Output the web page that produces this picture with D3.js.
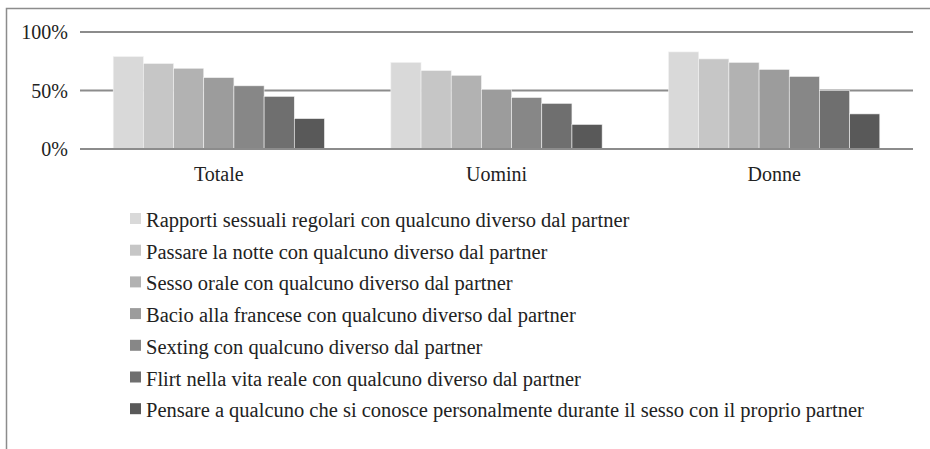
<!DOCTYPE html>
<html>
<head>
<meta charset="utf-8">
<script src="https://cdn.jsdelivr.net/npm/d3@7"></script>
<style>
  body { margin: 0; background: #fff; }
</style>
</head>
<body>
<div id="chart"></div>
<script>
// categories and series
const groups = ["Totale", "Uomini", "Donne"];
const seriesNames = [
  "Rapporti sessuali regolari con qualcuno diverso dal partner",
  "Passare la notte con qualcuno diverso dal partner",
  "Sesso orale con qualcuno diverso dal partner",
  "Bacio alla francese con qualcuno diverso dal partner",
  "Sexting con qualcuno diverso dal partner",
  "Flirt nella vita reale con qualcuno diverso dal partner",
  "Pensare a qualcuno che si conosce personalmente durante il sesso con il proprio partner"
];
// values in %, one array per group, in series order
const totale = [79, 73, 69, 61, 54, 45, 26];
const uomini = [74, 67, 63, 51, 44, 39, 21];
const donne = [83, 77, 74, 68, 62, 50, 30];
const yTicks = [0, 50, 100];
const colors = ["#d9d9d9", "#c6c6c6", "#b2b2b2", "#9c9c9c", "#878787", "#6f6f6f", "#595959"];

const values = [totale, uomini, donne];
const data = groups.map((g, i) => ({ group: g, vals: values[i] }));
const FONT = "Liberation Serif";

const W = 930, H = 449;
const svg = d3.select("#chart").append("svg")
  .attr("width", W).attr("height", H);

// outer frame (cropped chart area)
svg.append("path")
  .attr("d", "M6.5," + H + "V8.5H" + W)
  .attr("fill", "none").attr("stroke", "#8c8c8c").attr("stroke-width", 1.5);

const plot = { left: 80, right: 913, top: 32, bottom: 149 };

const x0 = d3.scaleBand().domain(groups).range([plot.left, plot.right]);
const x1 = d3.scaleBand().domain(d3.range(seriesNames.length))
  .range([0, x0.bandwidth()]).paddingOuter(1.1);
const y = d3.scaleLinear().domain([0, 100]).range([plot.bottom, plot.top]);

// gridlines
svg.append("g").selectAll("line")
  .data(yTicks).enter().append("line")
  .attr("x1", plot.left).attr("x2", plot.right)
  .attr("y1", d => y(d)).attr("y2", d => y(d))
  .attr("stroke", "#8c8c8c").attr("stroke-width", 1.8);

// y tick labels
svg.append("g").selectAll("text")
  .data(yTicks).enter().append("text")
  .attr("x", 68).attr("y", d => y(d) + 7)
  .attr("text-anchor", "end")
  .attr("font-family", FONT).attr("font-size", 20).attr("fill", "#222")
  .text(d => d + "%");

// bars
const grp = svg.append("g").selectAll("g")
  .data(data).enter().append("g")
  .attr("transform", d => "translate(" + x0(d.group) + ",0)");

grp.selectAll("rect")
  .data(d => d.vals.map((v, i) => ({ i: i, v: v })))
  .enter().append("rect")
  .attr("x", d => x1(d.i))
  .attr("width", x1.bandwidth())
  .attr("y", d => y(d.v))
  .attr("height", d => y(0) - y(d.v))
  .attr("fill", d => colors[d.i])
  .attr("stroke", "#f2f2f2").attr("stroke-width", 0.6);

// redraw baseline on top
svg.append("line")
  .attr("x1", plot.left).attr("x2", plot.right)
  .attr("y1", y(0)).attr("y2", y(0))
  .attr("stroke", "#8c8c8c").attr("stroke-width", 1.8);

// category labels
svg.append("g").selectAll("text")
  .data(groups).enter().append("text")
  .attr("x", d => x0(d) + x0.bandwidth() / 2)
  .attr("y", 181)
  .attr("text-anchor", "middle")
  .attr("font-family", FONT).attr("font-size", 20).attr("fill", "#222")
  .text(d => d);

// legend
const legend = svg.append("g").selectAll("g")
  .data(seriesNames).enter().append("g")
  .attr("transform", (d, i) => "translate(130," + (227 + i * 31.7) + ")");

legend.append("rect")
  .attr("x", 0).attr("y", -14)
  .attr("width", 11).attr("height", 11)
  .attr("fill", (d, i) => colors[i]);

legend.append("text")
  .attr("x", 16).attr("y", 0)
  .attr("font-family", FONT).attr("font-size", 20.5).attr("fill", "#222")
  .text(d => d);
</script>
</body>
</html>
